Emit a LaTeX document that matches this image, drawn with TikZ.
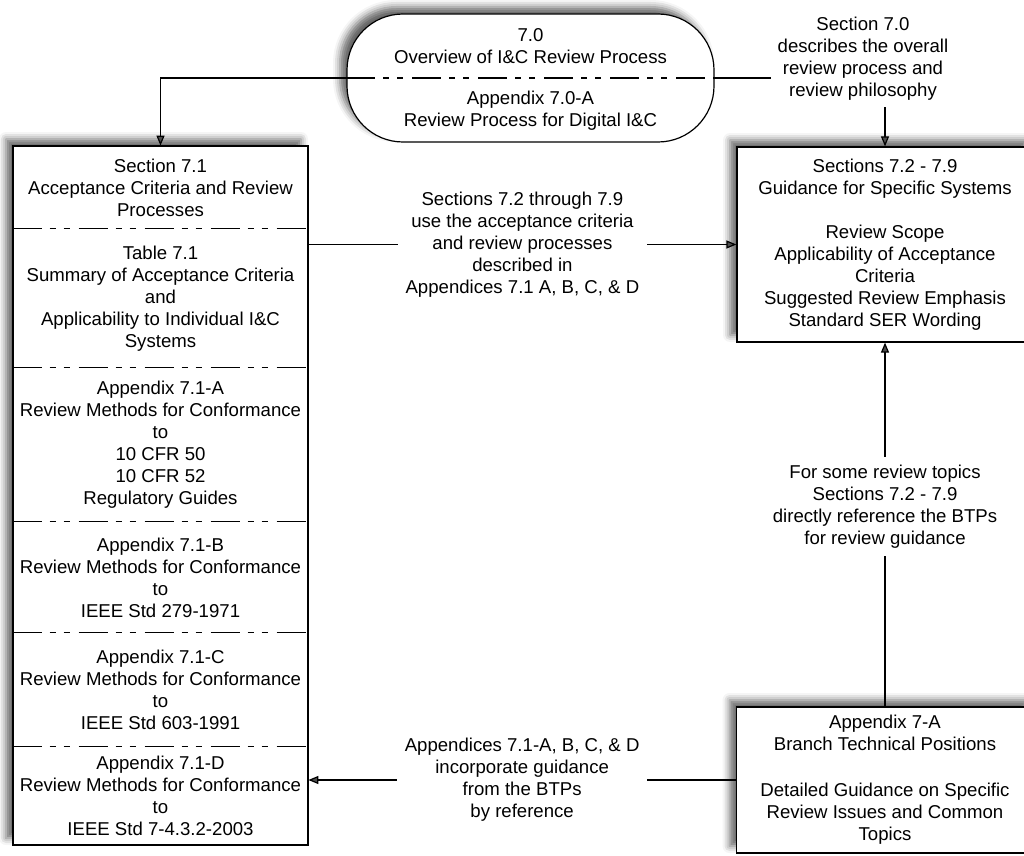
\documentclass[tikz,border=0pt]{standalone}
\usepackage{fontspec}
\setmainfont{Liberation Sans}
\usepackage{tikz}
\usetikzlibrary{arrows.meta}
\usetikzlibrary{shadows.blur}

\begin{document}
\begin{tikzpicture}[x=0.5pt,y=0.5pt,yscale=-1,xscale=1,
		every node/.style={font=\fontsize{9.3}{11}\selectfont},
		frame/.style={draw=black, line width=0.6pt, fill=white, blur shadow={shadow xshift=-3.5pt, shadow yshift=3.5pt, shadow blur radius=3.5pt, shadow opacity=60}},
		sect/.style={minimum width=147.5pt, inner sep=0pt, align=center},
		txt/.style={align=center, inner sep=0pt},
		note/.style={align=center, fill=white, inner sep=4pt},
		divider/.style={line width=0.6pt, dash pattern=on 14.5pt off 4pt on 3pt off 4pt on 3pt off 4.5pt},
		con/.style={line width=0.6pt},
		arr/.style={con, -{Triangle[length=5pt,width=4pt]}}]
	%uncomment if require: \path (0,856); %set diagram left start at 0, and has height of 856
	\useasboundingbox (0,0) rectangle (1024,856);
	
	%Shape: Rounded Rect
	\node[frame, rounded corners=28pt, minimum width=183.5pt, minimum height=64pt] (ov) at (530.5,78) {};
	\draw[divider] (ov.west) -- (ov.east);
	% Text Node
	\node[txt] (ov70) at (530.5,46) {7.0\\Overview of I\&C Review Process};
	% Text Node
	\node[txt] (ov70a) at (530.5,111) {Appendix 7.0-A\\Review Process for Digital I\&C};
	
	%Shape: Rectangle
	\draw[frame] (13,146) rectangle (308,845);
	\node[sect, minimum height=41.5pt] (s71) at (160.5,187.5) {Section 7.1\\Acceptance Criteria and Review\\Processes};
	\node[sect, minimum height=69.5pt] (t71) at (160.5,298.5) {Table 7.1\\Summary of Acceptance Criteria\\and\\Applicability to Individual I\&C\\Systems};
	\node[sect, minimum height=77pt] (a71a) at (160.5,445) {Appendix 7.1-A\\Review Methods for Conformance\\to\\10 CFR 50\\10 CFR 52\\Regulatory Guides};
	\node[sect, minimum height=55.5pt] (a71b) at (160.5,577.5) {Appendix 7.1-B\\Review Methods for Conformance\\to\\IEEE Std 279-1971};
	\node[sect, minimum height=57pt] (a71c) at (160.5,690) {Appendix 7.1-C\\Review Methods for Conformance\\to\\IEEE Std 603-1991};
	\node[sect, minimum height=49pt] (a71d) at (160.5,796) {Appendix 7.1-D\\Review Methods for Conformance\\to\\IEEE Std 7-4.3.2-2003};
	\foreach \s in {t71,a71a,a71b,a71c,a71d}
		\draw[divider] (\s.north west) -- (\s.north east);
	
	%Shape: Rectangle
	\node[frame, minimum width=148pt, minimum height=97.5pt, align=center] (s72) at (885,244.5) {Sections 7.2 - 7.9\\Guidance for Specific Systems\\[11pt]Review Scope\\Applicability of Acceptance\\Criteria\\Suggested Review Emphasis\\Standard SER Wording};
	%Shape: Rectangle
	\node[frame, minimum width=148.5pt, minimum height=73pt, align=center] (a7a) at (885,780) {Appendix 7-A\\Branch Technical Positions\\[12pt]Detailed Guidance on Specific\\Review Issues and Common\\Topics};
	
	% Text Node
	\node[txt, inner sep=3pt] (n70) at (863,59) {Section 7.0\\describes the overall\\review process and\\review philosophy};
	
	%Straight Lines
	\draw[arr] (ov.west) -| (s71.north);
	\draw[con] (ov.east) -- (ov.east -| n70.west);
	\draw[arr] (n70.south -| s72.north) -- (s72.north);
	\draw[arr] (s72.west -| t71.east) -- node[note]{Sections 7.2 through 7.9\\use the acceptance criteria\\and review processes\\described in\\Appendices 7.1 A, B, C, \& D} (s72.west);
	\draw[arr] (a7a.north) -- node[note, pos=0.55]{For some review topics\\Sections 7.2 - 7.9\\directly reference the BTPs\\for review guidance} (s72.south);
	\draw[arr] (a7a.west) -- node[note]{Appendices 7.1-A, B, C, \& D\\incorporate guidance\\from the BTPs\\by reference} (a7a.west -| a71d.east);
	
\end{tikzpicture}
\end{document}
